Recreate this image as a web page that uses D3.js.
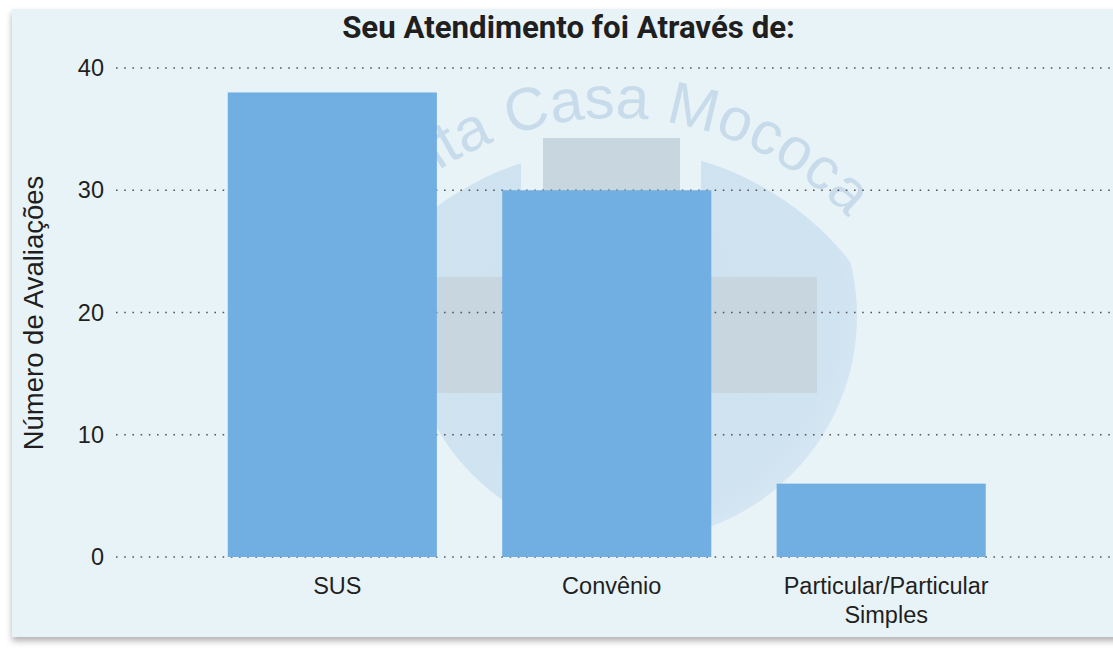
<!DOCTYPE html>
<html>
<head>
<meta charset="utf-8">
<script src="https://cdn.jsdelivr.net/npm/d3@7"></script>
<style>
  html, body { margin: 0; padding: 0; background: #ffffff; }
  svg { display: block; }
</style>
</head>
<body>
<div id="chart"></div>
<script>
// data
var categories = ["SUS", "Convênio", "Particular/Particular Simples"];
var values = [38, 30, 6];
var yTicks = [0, 10, 20, 30, 40];
var title = "Seu Atendimento foi Através de:";
var yLabel = "Número de Avaliações";
var watermarkText = "Santa Casa Mococa";

var width = 1113, height = 650;

var svg = d3.select("#chart").append("svg")
    .attr("width", width)
    .attr("height", height);

var defs = svg.append("defs");

var shadow = defs.append("filter")
    .attr("id", "shadow")
    .attr("x", "-5%").attr("y", "-5%")
    .attr("width", "110%").attr("height", "115%");
shadow.append("feDropShadow")
    .attr("dx", 0).attr("dy", 4)
    .attr("stdDeviation", 3)
    .attr("flood-color", "#000")
    .attr("flood-opacity", 0.3);

// panel
svg.append("rect")
    .attr("x", 12).attr("y", 9)
    .attr("width", 1130).attr("height", 628)
    .attr("fill", "#e8f3f8")
    .attr("filter", "url(#shadow)");

// watermark logo (faint)
var wm = svg.append("g").attr("class", "watermark");

defs.append("clipPath").attr("id", "sphereClip")
    .append("circle")
    .attr("cx", 615).attr("cy", 448).attr("r", 300);

var sphereGrad = defs.append("radialGradient")
    .attr("id", "sphereGrad")
    .attr("cx", "45%").attr("cy", "45%").attr("r", "60%");
sphereGrad.append("stop").attr("offset", "0%").attr("stop-color", "#cee1ef");
sphereGrad.append("stop").attr("offset", "85%").attr("stop-color", "#d0e3f0");
sphereGrad.append("stop").attr("offset", "100%").attr("stop-color", "#d8e8f4");

wm.append("circle")
    .attr("cx", 632).attr("cy", 316).attr("r", 225)
    .attr("fill", "url(#sphereGrad)")
    .attr("clip-path", "url(#sphereClip)");

// gap round the upright of the cross
wm.append("rect")
    .attr("x", 521).attr("y", 138)
    .attr("width", 180).attr("height", 139)
    .attr("fill", "#e8f3f8");

wm.append("rect")
    .attr("x", 543).attr("y", 138)
    .attr("width", 137).attr("height", 392)
    .attr("fill", "#c8d6df");
wm.append("rect")
    .attr("x", 406).attr("y", 277)
    .attr("width", 411).attr("height", 116)
    .attr("fill", "#c8d6df");

var arcR = 322, arcCx = 615, arcCy = 440;
defs.append("path")
    .attr("id", "wmArc")
    .attr("d", "M" + (arcCx - arcR) + "," + arcCy +
        " A" + arcR + "," + arcR + " 0 0 1 " + (arcCx + arcR) + "," + arcCy);

wm.append("text")
    .style("font-family", "'Liberation Sans', Arial, sans-serif")
    .style("font-size", "60px")
    .attr("fill", "#c7dbeb")
    .append("textPath")
    .attr("href", "#wmArc")
    .attr("startOffset", Math.PI * arcR * (88.2 / 180))
    .attr("text-anchor", "middle")
    .text(watermarkText);

// scales
var y = d3.scaleLinear()
    .domain([0, 40])
    .range([557, 68]);

var x = d3.scaleBand()
    .domain(categories)
    .range([118, 1095.5])
    .paddingInner(0.238)
    .paddingOuter(0.4);

// grid lines
svg.append("g")
    .selectAll("line")
    .data(yTicks)
    .enter()
    .append("line")
    .attr("x1", 116)
    .attr("x2", 1113)
    .attr("y1", function (d) { return y(d); })
    .attr("y2", function (d) { return y(d); })
    .attr("stroke", "#555")
    .attr("stroke-width", 1.6)
    .attr("stroke-dasharray", "1.6,6.6");

// y axis ticks
var yAxis = svg.append("g")
    .attr("transform", "translate(104,0)")
    .call(d3.axisLeft(y).tickValues(yTicks).tickSize(0).tickPadding(0));
yAxis.select(".domain").remove();
yAxis.selectAll("text")
    .style("font-family", "'Liberation Sans', Arial, sans-serif")
    .style("font-size", "23.5px")
    .attr("fill", "#1f1f1f");

// bars
svg.append("g")
    .selectAll("rect")
    .data(values)
    .enter()
    .append("rect")
    .attr("x", function (d, i) { return x(categories[i]); })
    .attr("y", function (d) { return y(d); })
    .attr("width", x.bandwidth())
    .attr("height", function (d) { return y(0) - y(d); })
    .attr("fill", "#71aee1");

// x labels (wrapped like the original)
var xLabels = svg.append("g")
    .selectAll("text")
    .data(categories)
    .enter()
    .append("text")
    .attr("text-anchor", "middle")
    .style("font-family", "'Liberation Sans', Arial, sans-serif")
    .style("font-size", "23.5px")
    .attr("fill", "#1f1f1f");

xLabels.each(function (d) {
    var cx = x(d) + x.bandwidth() / 2 + 5;
    var lines = d.indexOf(" ") > 0 && d.length > 20 ? [d.slice(0, d.lastIndexOf(" ")), d.slice(d.lastIndexOf(" ") + 1)] : [d];
    var t = d3.select(this);
    lines.forEach(function (l, i) {
        t.append("tspan")
            .attr("x", cx)
            .attr("y", 594 + i * 29)
            .text(l);
    });
});

// y label
svg.append("text")
    .attr("transform", "translate(43,313) rotate(-90)")
    .attr("text-anchor", "middle")
    .style("font-family", "'Liberation Sans', Arial, sans-serif")
    .style("font-size", "27.5px")
    .attr("fill", "#1f1f1f")
    .text(yLabel);

// title
var titleText = svg.append("text")
    .attr("x", 568.5)
    .attr("y", 38)
    .attr("text-anchor", "middle")
    .style("font-family", "Roboto, 'DejaVu Sans', sans-serif")
    .style("font-weight", "bold")
    .style("font-size", "25px")
    .attr("fill", "#1f1f1f")
    .text(title);
var tw = titleText.node().getComputedTextLength();
titleText.style("font-size", (25 * 453 / tw) + "px");
</script>
</body>
</html>
